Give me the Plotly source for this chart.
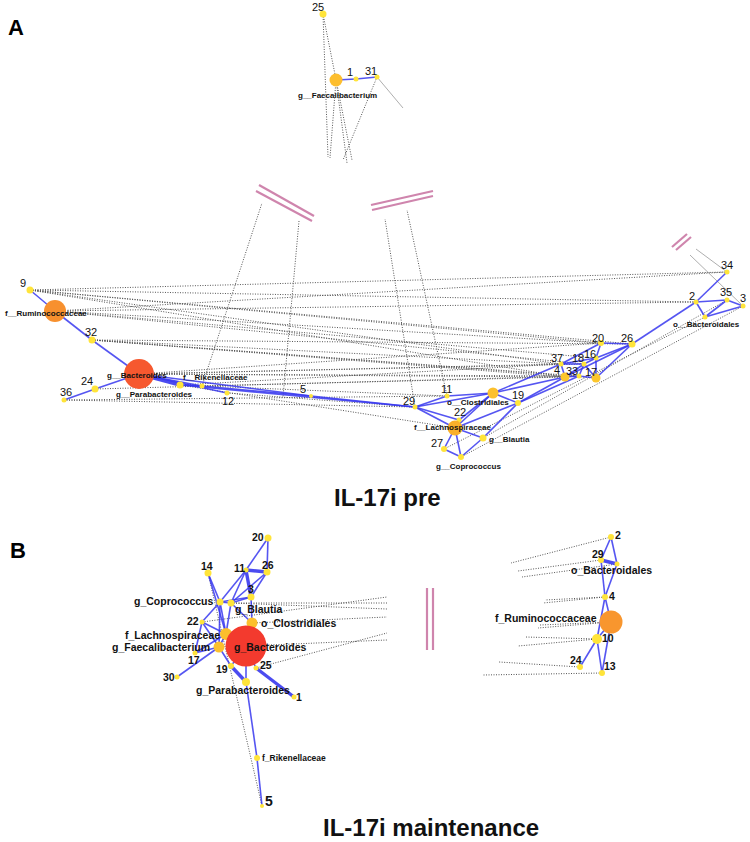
import plotly.graph_objects as go

# ---------------- Panel A (IL-17i pre) ----------------
A_nodes = ["25", "Faec", "1", "31", "9", "Rumino", "32", "Bacteroides", "24", "36",
           "Parab", "Riken", "12", "5", "29", "11", "Clost", "19", "22", "Lachno",
           "Blautia", "27", "Copro", "37", "18", "16", "4", "33", "17", "20", "26",
           "2", "34", "35", "3", "Bacteroidales"]
A_x = [323, 336, 356, 377, 30, 55, 92, 139, 95, 64,
       180, 202, 227, 311, 415, 447, 493, 518, 459, 455,
       483, 444, 461, 561, 584, 596, 565, 579, 596, 601, 632,
       696, 727, 727, 743, 705]
A_y = [14, 80, 79, 77, 290, 311, 340, 374, 389, 400,
       385, 386, 393, 396, 407, 396, 393, 403, 420, 428,
       438, 449, 457, 364, 364, 358, 377, 376, 378, 343, 344,
       302, 272, 300, 306, 317]
A_size = [7, 13, 5, 5, 7, 22, 7, 30, 7, 5,
          7, 5, 5, 4, 5, 5, 11, 6, 5, 15,
          7, 6, 6, 5, 5, 5, 9, 5, 9, 6, 7,
          5, 5, 5, 5, 5]
A_color = ["#FFE43A", "#FDBE2E", "#FFE43A", "#FFE43A", "#FFE43A", "#F7902E", "#FFE43A", "#F6582F", "#FFE43A", "#FFE43A",
           "#FFE43A", "#FFE43A", "#FFE43A", "#FFE43A", "#FFE43A", "#FFE43A", "#FCC02E", "#FFE43A", "#FFE43A", "#F9B02B",
           "#FFE43A", "#FFE43A", "#FFE43A", "#FFE43A", "#FFE43A", "#FFE43A", "#FCC62C", "#FFE43A", "#FCC62C", "#FFE43A", "#FFE43A",
           "#FFE43A", "#FFE43A", "#FFE43A", "#FFE43A", "#FFE43A"]

A_edges = [("Faec", "1"), ("1", "31"),
           ("9", "Rumino"), ("Rumino", "32"), ("32", "Bacteroides"), ("Bacteroides", "24"), ("24", "36"),
           ("Bacteroides", "Riken"), ("Bacteroides", "12"), ("Parab", "Riken"), ("Riken", "5"),
           ("Bacteroides", "5"), ("Parab", "29"), ("5", "29"),
           ("29", "11"), ("29", "Clost"), ("29", "Lachno"), ("29", "22"), ("11", "Clost"),
           ("Clost", "19"), ("Clost", "Lachno"), ("Clost", "22"), ("Clost", "4"), ("Clost", "37"),
           ("19", "Lachno"), ("19", "Blautia"), ("19", "33"), ("19", "4"), ("Lachno", "22"),
           ("Lachno", "Blautia"), ("Lachno", "27"), ("Lachno", "Copro"), ("27", "Copro"), ("Blautia", "Copro"),
           ("4", "37"), ("4", "33"), ("4", "18"), ("37", "18"), ("37", "16"), ("37", "20"), ("18", "16"),
           ("18", "33"), ("18", "17"), ("16", "17"), ("16", "20"), ("16", "26"), ("33", "17"), ("20", "26"),
           ("4", "26"), ("26", "2"), ("2", "34"), ("2", "35"), ("2", "Bacteroidales"), ("35", "3"),
           ("3", "Bacteroidales"), ("35", "Bacteroidales"), ("17", "26")]
A_thick = [("Bacteroides", "Parab")]

A_dotted = [("9", "34"), ("9", "2"), ("9", "26"), ("9", "37"), ("9", "4"), ("9", "20"),
            ("Rumino", "34"), ("Rumino", "2"), ("Rumino", "20"), ("Rumino", "18"), ("Rumino", "16"),
            ("32", "26"), ("32", "37"), ("32", "33"), ("32", "17"), ("32", "4"),
            ("Bacteroides", "37"), ("Bacteroides", "4"), ("Bacteroides", "18"), ("Bacteroides", "33"),
            ("Bacteroides", "20"), ("36", "11"), ("36", "29"), ("24", "33"), ("Parab", "11"),
            ("Parab", "37"), ("Riken", "4"), ("12", "29"), ("Parab", "Lachno"),
            ("Bacteroidales", "27"), ("3", "Copro"), ("35", "Blautia")]

# stubs: edges cut at the break marks (node -> cut point)
A_stub_node = ["25", "25", "Faec", "Faec", "31", "Riken", "29", "11"]
A_stub_x = [328, 352, 330, 347, 343, 262, 385, 407]
A_stub_y = [157, 160, 158, 163, 160, 203, 219, 210]
A_stub_solid_node = ["31", "34", "3"]
A_stub_solid_x = [403, 696, 690]
A_stub_solid_y = [108, 249, 255]
A_free_x = [299, 283]
A_free_y = [221, 397]

A_labels = ["25", "g__Faecalibacterium", "1", "31", "9", "f__Ruminococcaceae", "32", "g__Bacteroides",
            "24", "36", "g__Parabacteroides", "f__Rikenellaceae", "12", "5", "29", "11",
            "o__Clostridiales", "19", "22", "f__Lachnospiraceae", "g__Blautia", "27", "g__Coprococcus",
            "34", "2", "35", "3", "o__Bacteroidales", "20", "26", "37", "18", "16", "4", "33", "17"]
A_lab_x = [318, 337, 350, 371, 23, 46, 91, 137, 87, 66, 154, 215, 228, 303, 409, 446,
           478, 518, 460, 452, 509, 437, 468, 727, 692, 726, 743, 706, 598, 627, 557, 578, 590, 557, 572, 591]
A_lab_y = [7, 95, 72, 71, 283, 313, 332, 375, 381, 392, 394, 377, 401, 389, 401, 389,
           402, 395, 412, 427, 439, 443, 466, 265, 296, 292, 298, 324, 338, 338, 358, 358, 354, 370, 371, 372]

# ---------------- Panel B (IL-17i maintenance) ----------------
B_nodes = ["20", "14", "11", "26", "3", "Copro", "Blautia", "22", "Clost", "Lachno", "Faec",
           "Bacteroides", "17", "19", "25", "30", "Parab", "1", "Riken", "5",
           "R2", "R29", "RBacteroidales", "R4", "RRumino", "R10", "R24", "R13"]
B_x = [268, 208, 246, 267, 251, 220, 231, 202, 252, 226, 219,
       246, 195, 231, 256, 177, 246, 294, 257, 262,
       611, 601, 617, 605, 611, 597, 580, 602]
B_y = [538, 573, 570, 572, 597, 602, 603, 622, 623, 634, 647,
       646, 653, 666, 668, 677, 682, 697, 758, 806,
       537, 560, 564, 597, 622, 639, 667, 673]
B_size = [7, 7, 5, 7, 7, 7, 7, 5, 11, 12, 11,
          41, 5, 6, 5, 5, 8, 5, 6, 4,
          6, 6, 5, 6, 23, 10, 6, 6]
B_color = ["#FFE43A"] * 8 + ["#FCC02E", "#FBBE2E", "#FCC02E", "#F33A2E"] + ["#FFE43A"] * 12 + \
          ["#F8962E", "#FFE43A", "#FFE43A", "#FFE43A"]

B_edges = [("20", "11"), ("20", "26"), ("26", "3"), ("26", "Blautia"), ("11", "Copro"), ("11", "Blautia"),
           ("14", "Copro"), ("14", "Lachno"), ("Copro", "Blautia"), ("Copro", "3"), ("Blautia", "3"),
           ("Copro", "22"), ("Copro", "Lachno"), ("Copro", "Faec"), ("Blautia", "Lachno"), ("Blautia", "Clost"),
           ("3", "Clost"), ("22", "Lachno"), ("22", "Faec"), ("22", "17"), ("Lachno", "Faec"), ("Faec", "17"),
           ("Faec", "30"), ("Lachno", "Bacteroides"), ("Faec", "19"), ("Bacteroides", "19"),
           ("Bacteroides", "Parab"), ("Bacteroides", "25"), ("Parab", "Riken"), ("Riken", "5"), ("17", "Lachno"),
           ("R2", "R29"), ("R2", "RBacteroidales"), ("R29", "R4"), ("RBacteroidales", "R4"),
           ("R4", "RRumino"), ("R4", "R10"), ("RRumino", "R10"), ("R10", "R24"), ("R10", "R13"), ("RRumino", "R13")]
B_thick = [("11", "26"), ("11", "3"), ("19", "Parab"), ("25", "1"), ("R29", "RBacteroidales")]
B_dotted = [("14", "5")]
B_stub_node = ["22", "Blautia", "Blautia", "Clost", "25", "Bacteroides",
               "R2", "R29", "RBacteroidales", "R4", "R4", "RRumino", "RRumino", "R10", "R10", "R24", "R13"]
B_stub_x = [387, 387, 387, 387, 387, 387, 511, 518, 522, 543, 545, 538, 540, 525, 518, 499, 483]
B_stub_y = [597, 603, 609, 617, 633, 640, 563, 571, 577, 603, 600, 628, 625, 637, 646, 662, 675]

B_labels = ["20", "14", "11", "26", "3", "g_Coprococcus", "g_Blautia", "22", "o_Clostridiales",
            "f_Lachnospiraceae", "g_Faecalibacterium", "g_Bacteroides", "17", "19", "25", "30",
            "g_Parabacteroides", "1", "f_Rikenellaceae", "5",
            "2", "29", "o_Bacteroidales", "4", "f_Ruminococcaceae", "10", "24", "13"]
B_lab_x = [258, 207, 239, 268, 251, 216, 233, 193, 259, 222, 212, 232, 194, 222, 266, 169,
           243, 299, 260, 269, 618, 598, 611, 612, 599, 608, 576, 610]
B_lab_y = [537, 566, 568, 565, 589, 601, 609, 621, 623, 635, 647, 647, 660, 669, 665, 677,
           690, 697, 758, 801, 535, 554, 570, 596, 618, 638, 660, 666]
B_lab_anchor = ["center", "center", "center", "center", "center", "right", "left", "center", "left",
                "right", "right", "left", "center", "center", "center", "center",
                "center", "center", "left", "center", "center", "center", "center", "center", "right",
                "center", "center", "center"]

# break marks (pairs of parallel strokes)
break_x0 = [259, 256, 371, 372, 672, 676, 427, 433]
break_y0 = [185, 191, 205, 210, 247, 250, 588, 588]
break_x1 = [314, 312, 433, 433, 687, 691, 427, 433]
break_y1 = [216, 221, 191, 196, 234, 237, 650, 650]

panel_letters = ["A", "B"]
titles = ["IL-17i pre", "IL-17i maintenance"]

# ---------------- build ----------------
FONT = "Liberation Sans, Arial, Helvetica, sans-serif"
posA = {n: (x, y) for n, x, y in zip(A_nodes, A_x, A_y)}
posB = {n: (x, y) for n, x, y in zip(B_nodes, B_x, B_y)}


def seg(pairs, pos):
    xs, ys = [], []
    for a, b in pairs:
        xs += [pos[a][0], pos[b][0], None]
        ys += [pos[a][1], pos[b][1], None]
    return xs, ys


def stubs(nodes, px, py, pos):
    xs, ys = [], []
    for n, x, y in zip(nodes, px, py):
        xs += [pos[n][0], x, None]
        ys += [pos[n][1], y, None]
    return xs, ys


fig = go.Figure()
dot = dict(color="#555555", width=1, dash="1px,1.5px")
blue = dict(color="rgba(55,55,238,0.85)", width=1.6)
thick = dict(color="rgba(55,55,238,0.9)", width=3.4)


def add_lines(xs, ys, line):
    fig.add_trace(go.Scatter(x=xs, y=ys, mode="lines", line=line, hoverinfo="skip", showlegend=False))


for xs, ys in [seg(A_dotted, posA), stubs(A_stub_node, A_stub_x, A_stub_y, posA),
               (A_free_x, A_free_y), seg(B_dotted, posB), stubs(B_stub_node, B_stub_x, B_stub_y, posB)]:
    add_lines(xs, ys, dot)
xs, ys = stubs(A_stub_solid_node, A_stub_solid_x, A_stub_solid_y, posA)
add_lines(xs, ys, dict(color="#999999", width=0.8))

for pairs, pos in [(A_edges, posA), (B_edges, posB)]:
    xs, ys = seg(pairs, pos)
    add_lines(xs, ys, blue)
for pairs, pos in [(A_thick, posA), (B_thick, posB)]:
    xs, ys = seg(pairs, pos)
    add_lines(xs, ys, thick)

bx, by = [], []
for x0, y0, x1, y1 in zip(break_x0, break_y0, break_x1, break_y1):
    bx += [x0, x1, None]
    by += [y0, y1, None]
add_lines(bx, by, dict(color="#CF85AD", width=2.2))

for X, Y, S, C in [(A_x, A_y, A_size, A_color), (B_x, B_y, B_size, B_color)]:
    fig.add_trace(go.Scatter(x=X, y=Y, mode="markers", hoverinfo="skip", showlegend=False,
                             marker=dict(size=S, color=C, line=dict(width=0), opacity=1)))

ann = []
for t, x, y in zip(A_labels, A_lab_x, A_lab_y):
    is_num = t.isdigit()
    ann.append(dict(x=x, y=y, text=t if is_num else "<b>%s</b>" % t, showarrow=False,
                    xanchor="center", yanchor="middle",
                    font=dict(family=FONT, size=11 if is_num else 8, color="#111")))
for t, x, y, a in zip(B_labels, B_lab_x, B_lab_y, B_lab_anchor):
    size = 14 if t == "5" else (8.5 if t == "f_Rikenellaceae" else 10.5)
    ann.append(dict(x=x, y=y, text="<b>%s</b>" % t, showarrow=False, xanchor=a, yanchor="middle",
                    font=dict(family=FONT, size=size, color="#111")))
for t, x, y in zip(panel_letters, [16, 18], [27, 550]):
    ann.append(dict(x=x, y=y, text="<b>%s</b>" % t, showarrow=False, xanchor="center", yanchor="middle",
                    font=dict(family=FONT, size=22, color="#000")))
for t, x, y in zip(titles, [387, 431], [497, 827]):
    ann.append(dict(x=x, y=y, text="<b>%s</b>" % t, showarrow=False, xanchor="center", yanchor="middle",
                    font=dict(family=FONT, size=24, color="#111")))

fig.update_layout(width=750, height=842, margin=dict(l=0, r=0, t=0, b=0),
                  paper_bgcolor="white", plot_bgcolor="white", annotations=ann,
                  xaxis=dict(range=[0, 750], visible=False, fixedrange=True),
                  yaxis=dict(range=[842, 0], visible=False, fixedrange=True))
fig.write_html("out.html", config={"displayModeBar": False},
               post_script="document.body.style.margin='0px';document.body.style.overflow='hidden';")
